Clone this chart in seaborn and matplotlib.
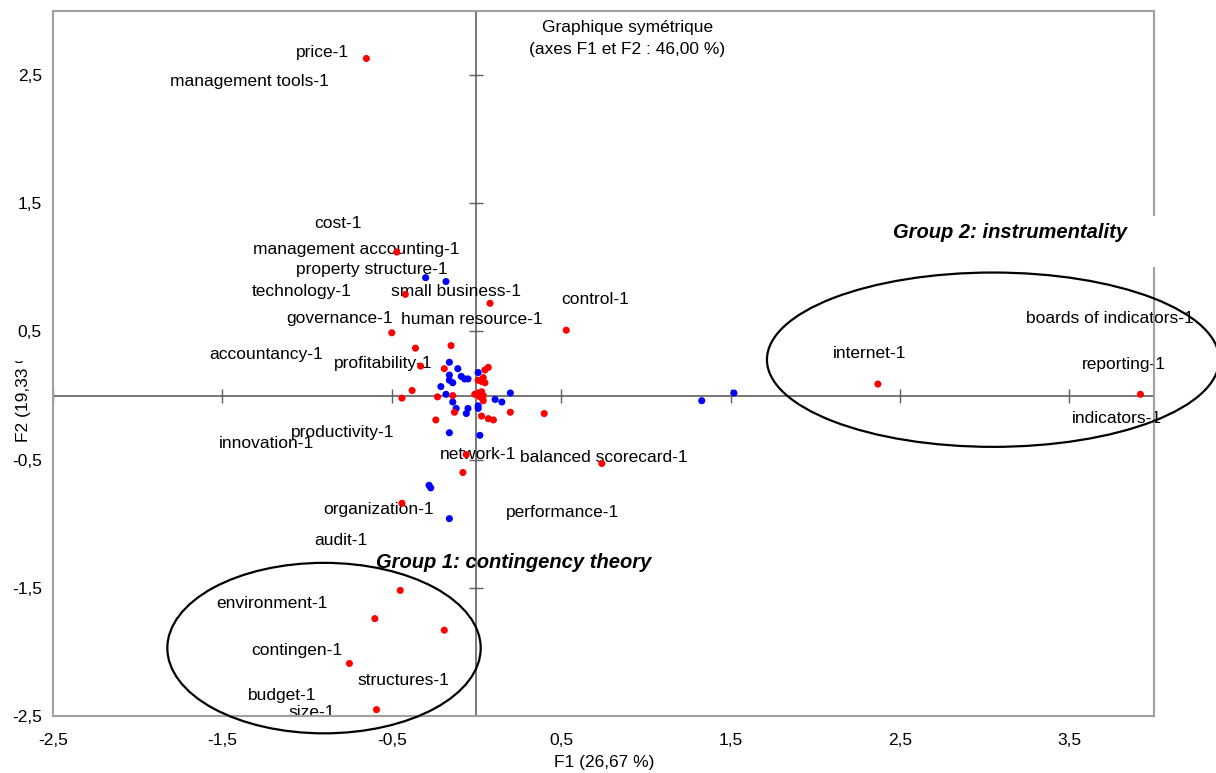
import matplotlib
matplotlib.use('Agg')
import matplotlib.pyplot as plt
from matplotlib.patches import Ellipse, Rectangle
from matplotlib.transforms import Bbox, TransformedBbox
import numpy as np
import pandas as pd
import seaborn as sns

# column points (red)
red_x = [-0.65, -0.47, -0.42, 0.08, -0.50, -0.36, -0.15, -0.33, -0.19, 0.53,
         0.07, 0.05, 0.01, 0.04, 0.03, 0.05, -0.38, -0.44, -0.23, -0.14,
         -0.01, 0.01, 0.03, 0.04, 0.02, 0.04, -0.13, -0.24, 0.03, 0.07,
         0.10, 0.20, 0.40, -0.06, -0.08, 0.74, -0.44, 2.37, 3.92, -0.45,
         -0.60, -0.19, -0.75, -0.59]
red_y = [2.63, 1.12, 0.79, 0.72, 0.49, 0.37, 0.39, 0.23, 0.21, 0.51,
         0.22, 0.20, 0.12, 0.14, 0.11, 0.10, 0.04, -0.02, -0.01, 0.00,
         0.01, 0.02, 0.03, 0.00, -0.01, -0.04, -0.13, -0.19, -0.16, -0.18,
         -0.19, -0.13, -0.14, -0.46, -0.60, -0.53, -0.84, 0.09, 0.01, -1.52,
         -1.74, -1.83, -2.09, -2.45]

# row points (blue)
blue_x = [-0.30, -0.18, -0.16, -0.11, -0.16, -0.09, -0.07, -0.05, 0.01, -0.14,
          -0.16, -0.21, -0.18, -0.14, -0.12, -0.05, -0.06, 0.01, 0.01, 0.11,
          0.15, 0.20, -0.16, 0.02, -0.27, -0.28, -0.16, 1.33, 1.52]
blue_y = [0.92, 0.89, 0.26, 0.21, 0.16, 0.15, 0.13, 0.13, 0.18, 0.10,
          0.12, 0.07, 0.01, -0.05, -0.10, -0.10, -0.14, -0.08, -0.10, -0.03,
          -0.05, 0.02, -0.29, -0.31, -0.72, -0.70, -0.96, -0.04, 0.02]

# point labels (as placed by the software)
label_names = ['price-1', 'management tools-1', 'cost-1', 'management accounting-1',
               'property structure-1', 'technology-1', 'small business-1',
               'governance-1', 'human resource-1', 'accountancy-1',
               'profitability-1', 'control-1', 'productivity-1', 'innovation-1',
               'network-1', 'balanced scorecard-1', 'organization-1',
               'performance-1', 'audit-1', 'environment-1', 'contingen-1',
               'structures-1', 'budget-1', 'size-1', 'internet-1',
               'boards of indicators-1', 'reporting-1', 'indicators-1']
label_x = [-0.91, -1.34, -0.82, -0.71, -0.62, -1.03, -0.12, -0.81, -0.03, -1.24,
           -0.55, 0.70, -0.79, -1.24, 0.01, 0.75, -0.58, 0.51, -0.80, -1.21,
           -1.06, -0.43, -1.15, -0.97, 2.32, 3.74, 3.82, 3.78]
label_y = [2.68, 2.45, 1.34, 1.14, 0.98, 0.81, 0.81, 0.60, 0.59, 0.32,
           0.25, 0.75, -0.29, -0.37, -0.46, -0.48, -0.89, -0.91, -1.13, -1.62,
           -1.99, -2.22, -2.34, -2.47, 0.33, 0.60, 0.24, -0.18]

xticks = [-2.5, -1.5, -0.5, 0.5, 1.5, 2.5, 3.5]
yticks = [-2.5, -1.5, -0.5, 0.5, 1.5, 2.5]

sns.set_style('white')
plt.rcParams['font.family'] = ['Liberation Sans', 'DejaVu Sans']
plt.rcParams['text.color'] = 'black'
plt.rcParams['xtick.color'] = 'black'
plt.rcParams['ytick.color'] = 'black'

df = pd.DataFrame({
    'F1': blue_x + red_x,
    'F2': blue_y + red_y,
    'kind': ['row'] * len(blue_x) + ['col'] * len(red_x),
})

fig = plt.figure(figsize=(12.16, 7.73), dpi=100)
ax = fig.add_axes([0.0436, 0.0737, 0.9054, 0.912])

sns.scatterplot(data=df, x='F1', y='F2', hue='kind',
                palette={'row': '#0000ff', 'col': '#ff0000'},
                s=26, linewidth=0, legend=False, ax=ax, zorder=4)

# central axes with cross ticks
ax.axhline(0, color='#606060', lw=1.2, zorder=1)
ax.axvline(0, color='#606060', lw=1.2, zorder=1)
ax.plot(xticks, np.zeros(len(xticks)), '|', ms=10, mew=1.0, color='#606060', zorder=1)
ax.plot(np.zeros(len(yticks)), yticks, '_', ms=10, mew=1.0, color='#606060', zorder=1)

ax.set_xlim(-2.5, 4.0)
ax.set_ylim(-2.5, 3.0)
ax.set_xticks(xticks, labels=[f'{v:g}'.replace('.', ',') for v in xticks])
ax.set_yticks(yticks, labels=[f'{v:g}'.replace('.', ',') for v in yticks])
ax.tick_params(axis='x', length=0, pad=12, labelsize=12.5)
ax.tick_params(axis='y', length=0, pad=8, labelsize=12.5)
ax.set_xlabel('')
ax.set_ylabel('')
for sp in ax.spines.values():
    sp.set_color('#a0a0a0')
    sp.set_linewidth(1.5)

for name, lx, ly in zip(label_names, label_x, label_y):
    ax.text(lx, ly, name, ha='center', va='center', fontsize=12.5, zorder=2)

ax.text(0.89, 2.875, 'Graphique symétrique', ha='center', va='center', fontsize=12.5)
ax.text(0.89, 2.70, '(axes F1 et F2 : 46,00 %)', ha='center', va='center', fontsize=12.5)

# group ellipses
ax.add_patch(Rectangle((2.9, 1.0), 1.3, 0.4, fc='white', ec='none',
                       zorder=2.6, clip_on=False))
ax.add_patch(Ellipse((3.05, 0.28), 2.67, 1.36, fill=False, ec='black', lw=1.6,
                     zorder=3, clip_on=False))
ax.add_patch(Ellipse((-0.90, -1.97), 1.85, 1.33, fill=False, ec='black', lw=1.6,
                     zorder=3, clip_on=False))
ax.text(3.15, 1.27, 'Group 2: instrumentality', ha='center', va='center',
        fontsize=14.5, fontweight='bold', fontstyle='italic', zorder=5)
ax.text(0.22, -1.30, 'Group 1: contingency theory', ha='center', va='center',
        fontsize=14.5, fontweight='bold', fontstyle='italic', zorder=5)

fig.text(604 / 1216, 1 - 762 / 773, 'F1 (26,67 %)', ha='center', va='center', fontsize=12.5)
yl = fig.text(24 / 1216, 1 - 442 / 773, 'F2 (19,33 %)', rotation=90,
              ha='center', va='bottom', fontsize=12.5)
yl.set_clip_box(TransformedBbox(Bbox([[0, 0], [0.04, 1 - 361 / 773]]), fig.transFigure))
yl.set_clip_on(True)

fig.savefig('out.png', dpi=100)
